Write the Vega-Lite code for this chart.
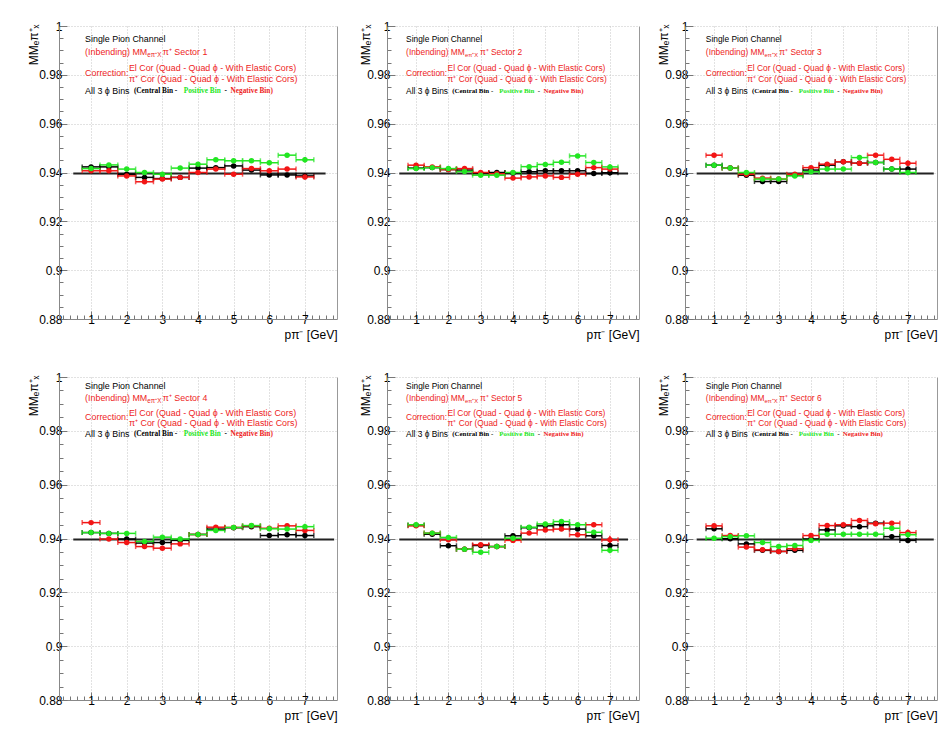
{
"$schema":"https://vega.github.io/schema/vega-lite/v6.json",
"background":"white",
"padding":{"left":27,"top":20,"right":2,"bottom":2},
"datasets":{"d":[
{"p":1,"s":"C","x":1,"y":0.9423,"e":0.0003,"w":0.25},{"p":1,"s":"C","x":1.5,"y":0.9423,"e":0.0003,"w":0.25},{"p":1,"s":"C","x":2,"y":0.9393,"e":0.0003,"w":0.25},{"p":1,"s":"C","x":2.5,"y":0.938,"e":0.0003,"w":0.25},{"p":1,"s":"C","x":3,"y":0.9375,"e":0.0003,"w":0.25},{"p":1,"s":"C","x":3.5,"y":0.938,"e":0.0004,"w":0.25},{"p":1,"s":"C","x":4,"y":0.9418,"e":0.0004,"w":0.25},{"p":1,"s":"C","x":4.5,"y":0.942,"e":0.0004,"w":0.25},{"p":1,"s":"C","x":5,"y":0.9427,"e":0.0004,"w":0.25},{"p":1,"s":"C","x":5.5,"y":0.941,"e":0.0006,"w":0.25},{"p":1,"s":"C","x":6,"y":0.939,"e":0.0006,"w":0.25},{"p":1,"s":"C","x":6.5,"y":0.939,"e":0.0008,"w":0.25},{"p":1,"s":"C","x":7,"y":0.9386,"e":0.0011,"w":0.25},
{"p":1,"s":"N","x":1,"y":0.9407,"e":0.0003,"w":0.25},{"p":1,"s":"N","x":1.5,"y":0.9407,"e":0.0003,"w":0.25},{"p":1,"s":"N","x":2,"y":0.9386,"e":0.0003,"w":0.25},{"p":1,"s":"N","x":2.5,"y":0.9362,"e":0.0003,"w":0.25},{"p":1,"s":"N","x":3,"y":0.9373,"e":0.0003,"w":0.25},{"p":1,"s":"N","x":3.5,"y":0.938,"e":0.0004,"w":0.25},{"p":1,"s":"N","x":4,"y":0.94,"e":0.0004,"w":0.25},{"p":1,"s":"N","x":4.5,"y":0.9414,"e":0.0004,"w":0.25},{"p":1,"s":"N","x":5,"y":0.9393,"e":0.0004,"w":0.25},{"p":1,"s":"N","x":5.5,"y":0.9416,"e":0.0006,"w":0.25},{"p":1,"s":"N","x":6,"y":0.9407,"e":0.0006,"w":0.25},{"p":1,"s":"N","x":6.5,"y":0.9414,"e":0.0008,"w":0.25},{"p":1,"s":"N","x":7,"y":0.9382,"e":0.0011,"w":0.25},
{"p":1,"s":"P","x":1,"y":0.9416,"e":0.0003,"w":0.25},{"p":1,"s":"P","x":1.5,"y":0.9431,"e":0.0003,"w":0.25},{"p":1,"s":"P","x":2,"y":0.9414,"e":0.0003,"w":0.25},{"p":1,"s":"P","x":2.5,"y":0.94,"e":0.0003,"w":0.25},{"p":1,"s":"P","x":3,"y":0.9393,"e":0.0003,"w":0.25},{"p":1,"s":"P","x":3.5,"y":0.9418,"e":0.0004,"w":0.25},{"p":1,"s":"P","x":4,"y":0.9434,"e":0.0004,"w":0.25},{"p":1,"s":"P","x":4.5,"y":0.9452,"e":0.0004,"w":0.25},{"p":1,"s":"P","x":5,"y":0.9448,"e":0.0004,"w":0.25},{"p":1,"s":"P","x":5.5,"y":0.9448,"e":0.0006,"w":0.25},{"p":1,"s":"P","x":6,"y":0.944,"e":0.0006,"w":0.25},{"p":1,"s":"P","x":6.5,"y":0.9471,"e":0.0008,"w":0.25},{"p":1,"s":"P","x":7,"y":0.9452,"e":0.0011,"w":0.25},
{"p":2,"s":"C","x":1,"y":0.9418,"e":0.0003,"w":0.25},{"p":2,"s":"C","x":1.5,"y":0.942,"e":0.0003,"w":0.25},{"p":2,"s":"C","x":2,"y":0.9412,"e":0.0003,"w":0.25},{"p":2,"s":"C","x":2.5,"y":0.941,"e":0.0003,"w":0.25},{"p":2,"s":"C","x":3,"y":0.9396,"e":0.0003,"w":0.25},{"p":2,"s":"C","x":3.5,"y":0.94,"e":0.0004,"w":0.25},{"p":2,"s":"C","x":4,"y":0.9397,"e":0.0004,"w":0.25},{"p":2,"s":"C","x":4.5,"y":0.9403,"e":0.0004,"w":0.25},{"p":2,"s":"C","x":5,"y":0.9407,"e":0.0004,"w":0.25},{"p":2,"s":"C","x":5.5,"y":0.9407,"e":0.0006,"w":0.25},{"p":2,"s":"C","x":6,"y":0.9407,"e":0.0006,"w":0.25},{"p":2,"s":"C","x":6.5,"y":0.9396,"e":0.0008,"w":0.25},{"p":2,"s":"C","x":7,"y":0.9399,"e":0.0011,"w":0.25},
{"p":2,"s":"N","x":1,"y":0.943,"e":0.0003,"w":0.25},{"p":2,"s":"N","x":1.5,"y":0.9423,"e":0.0003,"w":0.25},{"p":2,"s":"N","x":2,"y":0.9412,"e":0.0003,"w":0.25},{"p":2,"s":"N","x":2.5,"y":0.9416,"e":0.0003,"w":0.25},{"p":2,"s":"N","x":3,"y":0.94,"e":0.0003,"w":0.25},{"p":2,"s":"N","x":3.5,"y":0.9395,"e":0.0004,"w":0.25},{"p":2,"s":"N","x":4,"y":0.9377,"e":0.0004,"w":0.25},{"p":2,"s":"N","x":4.5,"y":0.9382,"e":0.0004,"w":0.25},{"p":2,"s":"N","x":5,"y":0.9386,"e":0.0004,"w":0.25},{"p":2,"s":"N","x":5.5,"y":0.938,"e":0.0006,"w":0.25},{"p":2,"s":"N","x":6,"y":0.9393,"e":0.0006,"w":0.25},{"p":2,"s":"N","x":6.5,"y":0.942,"e":0.0008,"w":0.25},{"p":2,"s":"N","x":7,"y":0.9414,"e":0.0011,"w":0.25},
{"p":2,"s":"P","x":1,"y":0.9416,"e":0.0003,"w":0.25},{"p":2,"s":"P","x":1.5,"y":0.942,"e":0.0003,"w":0.25},{"p":2,"s":"P","x":2,"y":0.9416,"e":0.0003,"w":0.25},{"p":2,"s":"P","x":2.5,"y":0.9404,"e":0.0003,"w":0.25},{"p":2,"s":"P","x":3,"y":0.9389,"e":0.0003,"w":0.25},{"p":2,"s":"P","x":3.5,"y":0.9389,"e":0.0004,"w":0.25},{"p":2,"s":"P","x":4,"y":0.94,"e":0.0004,"w":0.25},{"p":2,"s":"P","x":4.5,"y":0.9424,"e":0.0004,"w":0.25},{"p":2,"s":"P","x":5,"y":0.9433,"e":0.0004,"w":0.25},{"p":2,"s":"P","x":5.5,"y":0.9442,"e":0.0006,"w":0.25},{"p":2,"s":"P","x":6,"y":0.9468,"e":0.0006,"w":0.25},{"p":2,"s":"P","x":6.5,"y":0.9441,"e":0.0008,"w":0.25},{"p":2,"s":"P","x":7,"y":0.9423,"e":0.0011,"w":0.25},
{"p":3,"s":"C","x":1,"y":0.943,"e":0.0003,"w":0.25},{"p":3,"s":"C","x":1.5,"y":0.9418,"e":0.0003,"w":0.25},{"p":3,"s":"C","x":2,"y":0.9389,"e":0.0003,"w":0.25},{"p":3,"s":"C","x":2.5,"y":0.9363,"e":0.0003,"w":0.25},{"p":3,"s":"C","x":3,"y":0.9363,"e":0.0003,"w":0.25},{"p":3,"s":"C","x":3.5,"y":0.9389,"e":0.0004,"w":0.25},{"p":3,"s":"C","x":4,"y":0.941,"e":0.0004,"w":0.25},{"p":3,"s":"C","x":4.5,"y":0.943,"e":0.0004,"w":0.25},{"p":3,"s":"C","x":5,"y":0.9444,"e":0.0004,"w":0.25},{"p":3,"s":"C","x":5.5,"y":0.9438,"e":0.0006,"w":0.25},{"p":3,"s":"C","x":6,"y":0.9441,"e":0.0006,"w":0.25},{"p":3,"s":"C","x":6.5,"y":0.9414,"e":0.0008,"w":0.25},{"p":3,"s":"C","x":7,"y":0.9414,"e":0.0011,"w":0.25},
{"p":3,"s":"N","x":1,"y":0.9471,"e":0.0003,"w":0.25},{"p":3,"s":"N","x":1.5,"y":0.9418,"e":0.0003,"w":0.25},{"p":3,"s":"N","x":2,"y":0.9393,"e":0.0003,"w":0.25},{"p":3,"s":"N","x":2.5,"y":0.9377,"e":0.0003,"w":0.25},{"p":3,"s":"N","x":3,"y":0.9373,"e":0.0003,"w":0.25},{"p":3,"s":"N","x":3.5,"y":0.9393,"e":0.0004,"w":0.25},{"p":3,"s":"N","x":4,"y":0.942,"e":0.0004,"w":0.25},{"p":3,"s":"N","x":4.5,"y":0.9434,"e":0.0004,"w":0.25},{"p":3,"s":"N","x":5,"y":0.9444,"e":0.0004,"w":0.25},{"p":3,"s":"N","x":5.5,"y":0.9438,"e":0.0006,"w":0.25},{"p":3,"s":"N","x":6,"y":0.9471,"e":0.0006,"w":0.25},{"p":3,"s":"N","x":6.5,"y":0.9454,"e":0.0008,"w":0.25},{"p":3,"s":"N","x":7,"y":0.9438,"e":0.0011,"w":0.25},
{"p":3,"s":"P","x":1,"y":0.943,"e":0.0003,"w":0.25},{"p":3,"s":"P","x":1.5,"y":0.9418,"e":0.0003,"w":0.25},{"p":3,"s":"P","x":2,"y":0.94,"e":0.0003,"w":0.25},{"p":3,"s":"P","x":2.5,"y":0.9373,"e":0.0003,"w":0.25},{"p":3,"s":"P","x":3,"y":0.9373,"e":0.0003,"w":0.25},{"p":3,"s":"P","x":3.5,"y":0.9386,"e":0.0004,"w":0.25},{"p":3,"s":"P","x":4,"y":0.9403,"e":0.0004,"w":0.25},{"p":3,"s":"P","x":4.5,"y":0.9414,"e":0.0004,"w":0.25},{"p":3,"s":"P","x":5,"y":0.9414,"e":0.0004,"w":0.25},{"p":3,"s":"P","x":5.5,"y":0.9461,"e":0.0006,"w":0.25},{"p":3,"s":"P","x":6,"y":0.9441,"e":0.0006,"w":0.25},{"p":3,"s":"P","x":6.5,"y":0.9414,"e":0.0008,"w":0.25},{"p":3,"s":"P","x":7,"y":0.94,"e":0.0011,"w":0.25},
{"p":4,"s":"C","x":1,"y":0.9422,"e":0.0003,"w":0.25},{"p":4,"s":"C","x":1.5,"y":0.9419,"e":0.0003,"w":0.25},{"p":4,"s":"C","x":2,"y":0.9398,"e":0.0003,"w":0.25},{"p":4,"s":"C","x":2.5,"y":0.9383,"e":0.0003,"w":0.25},{"p":4,"s":"C","x":3,"y":0.9385,"e":0.0003,"w":0.25},{"p":4,"s":"C","x":3.5,"y":0.9393,"e":0.0004,"w":0.25},{"p":4,"s":"C","x":4,"y":0.9415,"e":0.0004,"w":0.25},{"p":4,"s":"C","x":4.5,"y":0.9435,"e":0.0004,"w":0.25},{"p":4,"s":"C","x":5,"y":0.944,"e":0.0004,"w":0.25},{"p":4,"s":"C","x":5.5,"y":0.9444,"e":0.0006,"w":0.25},{"p":4,"s":"C","x":6,"y":0.9411,"e":0.0006,"w":0.25},{"p":4,"s":"C","x":6.5,"y":0.9414,"e":0.0008,"w":0.25},{"p":4,"s":"C","x":7,"y":0.9411,"e":0.0011,"w":0.25},
{"p":4,"s":"N","x":1,"y":0.9459,"e":0.0003,"w":0.25},{"p":4,"s":"N","x":1.5,"y":0.9398,"e":0.0003,"w":0.25},{"p":4,"s":"N","x":2,"y":0.9385,"e":0.0003,"w":0.25},{"p":4,"s":"N","x":2.5,"y":0.937,"e":0.0003,"w":0.25},{"p":4,"s":"N","x":3,"y":0.9364,"e":0.0003,"w":0.25},{"p":4,"s":"N","x":3.5,"y":0.938,"e":0.0004,"w":0.25},{"p":4,"s":"N","x":4,"y":0.9415,"e":0.0004,"w":0.25},{"p":4,"s":"N","x":4.5,"y":0.9442,"e":0.0004,"w":0.25},{"p":4,"s":"N","x":5,"y":0.9441,"e":0.0004,"w":0.25},{"p":4,"s":"N","x":5.5,"y":0.9447,"e":0.0006,"w":0.25},{"p":4,"s":"N","x":6,"y":0.9438,"e":0.0006,"w":0.25},{"p":4,"s":"N","x":6.5,"y":0.9447,"e":0.0008,"w":0.25},{"p":4,"s":"N","x":7,"y":0.943,"e":0.0011,"w":0.25},
{"p":4,"s":"P","x":1,"y":0.9422,"e":0.0003,"w":0.25},{"p":4,"s":"P","x":1.5,"y":0.9419,"e":0.0003,"w":0.25},{"p":4,"s":"P","x":2,"y":0.9419,"e":0.0003,"w":0.25},{"p":4,"s":"P","x":2.5,"y":0.9389,"e":0.0003,"w":0.25},{"p":4,"s":"P","x":3,"y":0.9405,"e":0.0003,"w":0.25},{"p":4,"s":"P","x":3.5,"y":0.9398,"e":0.0004,"w":0.25},{"p":4,"s":"P","x":4,"y":0.9415,"e":0.0004,"w":0.25},{"p":4,"s":"P","x":4.5,"y":0.943,"e":0.0004,"w":0.25},{"p":4,"s":"P","x":5,"y":0.9441,"e":0.0004,"w":0.25},{"p":4,"s":"P","x":5.5,"y":0.9448,"e":0.0006,"w":0.25},{"p":4,"s":"P","x":6,"y":0.9436,"e":0.0006,"w":0.25},{"p":4,"s":"P","x":6.5,"y":0.9435,"e":0.0008,"w":0.25},{"p":4,"s":"P","x":7,"y":0.9444,"e":0.0011,"w":0.25},
{"p":5,"s":"C","x":1,"y":0.9449,"e":0.0003,"w":0.25},{"p":5,"s":"C","x":1.5,"y":0.9416,"e":0.0003,"w":0.25},{"p":5,"s":"C","x":2,"y":0.9373,"e":0.0003,"w":0.25},{"p":5,"s":"C","x":2.5,"y":0.936,"e":0.0003,"w":0.25},{"p":5,"s":"C","x":3,"y":0.9374,"e":0.0003,"w":0.25},{"p":5,"s":"C","x":3.5,"y":0.937,"e":0.0004,"w":0.25},{"p":5,"s":"C","x":4,"y":0.941,"e":0.0004,"w":0.25},{"p":5,"s":"C","x":4.5,"y":0.944,"e":0.0004,"w":0.25},{"p":5,"s":"C","x":5,"y":0.9447,"e":0.0004,"w":0.25},{"p":5,"s":"C","x":5.5,"y":0.9451,"e":0.0006,"w":0.25},{"p":5,"s":"C","x":6,"y":0.9435,"e":0.0006,"w":0.25},{"p":5,"s":"C","x":6.5,"y":0.941,"e":0.0008,"w":0.25},{"p":5,"s":"C","x":7,"y":0.9374,"e":0.0011,"w":0.25},
{"p":5,"s":"N","x":1,"y":0.9447,"e":0.0003,"w":0.25},{"p":5,"s":"N","x":1.5,"y":0.942,"e":0.0003,"w":0.25},{"p":5,"s":"N","x":2,"y":0.9395,"e":0.0003,"w":0.25},{"p":5,"s":"N","x":2.5,"y":0.936,"e":0.0003,"w":0.25},{"p":5,"s":"N","x":3,"y":0.9377,"e":0.0003,"w":0.25},{"p":5,"s":"N","x":3.5,"y":0.937,"e":0.0004,"w":0.25},{"p":5,"s":"N","x":4,"y":0.9393,"e":0.0004,"w":0.25},{"p":5,"s":"N","x":4.5,"y":0.942,"e":0.0004,"w":0.25},{"p":5,"s":"N","x":5,"y":0.9432,"e":0.0004,"w":0.25},{"p":5,"s":"N","x":5.5,"y":0.9435,"e":0.0006,"w":0.25},{"p":5,"s":"N","x":6,"y":0.9414,"e":0.0006,"w":0.25},{"p":5,"s":"N","x":6.5,"y":0.9451,"e":0.0008,"w":0.25},{"p":5,"s":"N","x":7,"y":0.9395,"e":0.0015,"w":0.25},
{"p":5,"s":"P","x":1,"y":0.9451,"e":0.0003,"w":0.25},{"p":5,"s":"P","x":1.5,"y":0.942,"e":0.0003,"w":0.25},{"p":5,"s":"P","x":2,"y":0.9404,"e":0.0003,"w":0.25},{"p":5,"s":"P","x":2.5,"y":0.936,"e":0.0003,"w":0.25},{"p":5,"s":"P","x":3,"y":0.9349,"e":0.0003,"w":0.25},{"p":5,"s":"P","x":3.5,"y":0.937,"e":0.0004,"w":0.25},{"p":5,"s":"P","x":4,"y":0.9401,"e":0.0004,"w":0.25},{"p":5,"s":"P","x":4.5,"y":0.9442,"e":0.0004,"w":0.25},{"p":5,"s":"P","x":5,"y":0.9454,"e":0.0004,"w":0.25},{"p":5,"s":"P","x":5.5,"y":0.9463,"e":0.0006,"w":0.25},{"p":5,"s":"P","x":6,"y":0.9451,"e":0.0006,"w":0.25},{"p":5,"s":"P","x":6.5,"y":0.9423,"e":0.0008,"w":0.25},{"p":5,"s":"P","x":7,"y":0.9356,"e":0.0011,"w":0.25},
{"p":6,"s":"C","x":1,"y":0.9436,"e":0.0003,"w":0.25},{"p":6,"s":"C","x":1.5,"y":0.9399,"e":0.0003,"w":0.25},{"p":6,"s":"C","x":2,"y":0.938,"e":0.0003,"w":0.25},{"p":6,"s":"C","x":2.5,"y":0.9356,"e":0.0003,"w":0.25},{"p":6,"s":"C","x":3,"y":0.9352,"e":0.0003,"w":0.25},{"p":6,"s":"C","x":3.5,"y":0.9356,"e":0.0004,"w":0.25},{"p":6,"s":"C","x":4,"y":0.9398,"e":0.0004,"w":0.25},{"p":6,"s":"C","x":4.5,"y":0.9432,"e":0.0004,"w":0.25},{"p":6,"s":"C","x":5,"y":0.9447,"e":0.0004,"w":0.25},{"p":6,"s":"C","x":5.5,"y":0.9444,"e":0.0006,"w":0.25},{"p":6,"s":"C","x":6,"y":0.9457,"e":0.0006,"w":0.25},{"p":6,"s":"C","x":6.5,"y":0.9407,"e":0.0008,"w":0.25},{"p":6,"s":"C","x":7,"y":0.9393,"e":0.0011,"w":0.25},
{"p":6,"s":"N","x":1,"y":0.9447,"e":0.0003,"w":0.25},{"p":6,"s":"N","x":1.5,"y":0.9411,"e":0.0003,"w":0.25},{"p":6,"s":"N","x":2,"y":0.9368,"e":0.0003,"w":0.25},{"p":6,"s":"N","x":2.5,"y":0.9358,"e":0.0003,"w":0.25},{"p":6,"s":"N","x":3,"y":0.9352,"e":0.0003,"w":0.25},{"p":6,"s":"N","x":3.5,"y":0.9362,"e":0.0004,"w":0.25},{"p":6,"s":"N","x":4,"y":0.9411,"e":0.0004,"w":0.25},{"p":6,"s":"N","x":4.5,"y":0.9448,"e":0.0004,"w":0.25},{"p":6,"s":"N","x":5,"y":0.9451,"e":0.0004,"w":0.25},{"p":6,"s":"N","x":5.5,"y":0.9467,"e":0.0006,"w":0.25},{"p":6,"s":"N","x":6,"y":0.9455,"e":0.0006,"w":0.25},{"p":6,"s":"N","x":6.5,"y":0.9457,"e":0.0008,"w":0.25},{"p":6,"s":"N","x":7,"y":0.9422,"e":0.0011,"w":0.25},
{"p":6,"s":"P","x":1,"y":0.9401,"e":0.0003,"w":0.25},{"p":6,"s":"P","x":1.5,"y":0.9407,"e":0.0003,"w":0.25},{"p":6,"s":"P","x":2,"y":0.941,"e":0.0003,"w":0.25},{"p":6,"s":"P","x":2.5,"y":0.9385,"e":0.0003,"w":0.25},{"p":6,"s":"P","x":3,"y":0.937,"e":0.0003,"w":0.25},{"p":6,"s":"P","x":3.5,"y":0.9374,"e":0.0004,"w":0.25},{"p":6,"s":"P","x":4,"y":0.9393,"e":0.0004,"w":0.25},{"p":6,"s":"P","x":4.5,"y":0.9416,"e":0.0004,"w":0.25},{"p":6,"s":"P","x":5,"y":0.9416,"e":0.0004,"w":0.25},{"p":6,"s":"P","x":5.5,"y":0.9416,"e":0.0006,"w":0.25},{"p":6,"s":"P","x":6,"y":0.9416,"e":0.0006,"w":0.25},{"p":6,"s":"P","x":6.5,"y":0.9438,"e":0.0008,"w":0.25},{"p":6,"s":"P","x":7,"y":0.9414,"e":0.0011,"w":0.25}
]},
"config":{
"view":{"stroke":null},
"font":"Liberation Sans",
"axis":{"labelFont":"Liberation Sans","titleFont":"Liberation Sans","labelColor":"#000","titleColor":"#000","titleFontWeight":"normal","labelFontSize":12,"titleFontSize":12,"domainColor":"#888","tickColor":"#777","gridColor":"#c4c4c4","gridDash":[1,2],"labelFlush":false,"labelOverlap":false},
"text":{"font":"Liberation Sans","align":"left","baseline":"middle"}
},
"spacing":31,
"vconcat":[
{"spacing":21,"hconcat":[
{"width":278,"height":293,"data":{"values":[{}]},"resolve":{"axis":{"x":"independent","y":"independent"}},"layer":[
{"mark":{"type":"rule","color":"#222","strokeWidth":2},"encoding":{"x":{"datum":0.5,"type":"quantitative","scale":{"domain":[0.1,7.9],"nice":false,"zero":false},"axis":{"orient":"bottom","values":[0.2,0.4,0.6,0.8,1.2,1.4,1.6,1.8,2.2,2.4,2.6,2.8,3.2,3.4,3.6,3.8,4.2,4.4,4.6,4.8,5.2,5.4,5.6,5.8,6.2,6.4,6.6,6.8,7.2,7.4,7.6,7.8],"labels":false,"domain":false,"grid":false,"tickSize":-4,"title":null}},"x2":{"datum":7.58},"y":{"datum":0.9396,"type":"quantitative","scale":{"domain":[0.88,1],"nice":false,"zero":false},"axis":{"orient":"left","values":[0.885,0.89,0.895,0.905,0.91,0.915,0.925,0.93,0.935,0.945,0.95,0.955,0.965,0.97,0.975,0.985,0.99,0.995],"labels":false,"domain":false,"grid":false,"tickSize":-4,"title":null}}}},
{"data":{"name":"d"},"transform":[{"filter":"datum.p==1"}],"mark":{"type":"errorbar","ticks":{"size":5},"thickness":1.5},"encoding":{"x":{"field":"x","type":"quantitative","axis":{"orient":"bottom","values":[1,2,3,4,5,6,7],"grid":true,"tickSize":-8,"labelPadding":3,"title":"pπ⁻ [GeV]","titleX":278,"titleY":15,"titleAlign":"right","titleBaseline":"middle"}},"xError":{"field":"w"},"y":{"field":"y","type":"quantitative","axis":{"orient":"left","values":[0.88,0.9,0.92,0.94,0.96,0.98,1],"format":"~g","grid":true,"tickSize":-8,"labelPadding":5,"title":"MMₑπ⁺ₓ","titleAngle":-90,"titleX":-26,"titleY":-2,"titleAlign":"right","titleBaseline":"middle"}},"color":{"field":"s","type":"nominal","scale":{"domain":["C","N","P"],"range":["#000000","#f21515","#22e622"]},"legend":null}}},
{"data":{"name":"d"},"transform":[{"filter":"datum.p==1"}],"mark":{"type":"errorbar","thickness":1.5},"encoding":{"x":{"field":"x","type":"quantitative","axis":null},"y":{"field":"y","type":"quantitative","axis":{"orient":"right","labels":false,"ticks":false,"grid":false,"domain":true,"title":null,"domainColor":"#999"}},"yError":{"field":"e"},"color":{"field":"s","type":"nominal","legend":null}}},
{"data":{"name":"d"},"transform":[{"filter":"datum.p==1"}],"mark":{"type":"circle","size":30,"opacity":1},"encoding":{"x":{"field":"x","type":"quantitative","axis":null},"y":{"field":"y","type":"quantitative","axis":null},"color":{"field":"s","type":"nominal","legend":null}}},
{"mark":{"type":"text","fontSize":8.9,"color":"#000"},"encoding":{"x":{"datum":0.832,"axis":null},"y":{"datum":0.99469,"axis":null},"text":{"value":"Single Pion Channel"}}},
{"mark":{"type":"text","fontSize":8.9,"color":"#ee1c1c"},"encoding":{"x":{"datum":0.832,"axis":null},"y":{"datum":0.98939,"axis":null},"text":{"value":"(Inbending) MM"}}},
{"mark":{"type":"text","fontSize":6.3,"color":"#ee1c1c"},"encoding":{"x":{"datum":2.578,"axis":null},"y":{"datum":0.98804,"axis":null},"text":{"value":"eπ⁺X"}}},
{"mark":{"type":"text","fontSize":8.9,"color":"#ee1c1c"},"encoding":{"x":{"datum":3.011,"axis":null},"y":{"datum":0.98939,"axis":null},"text":{"value":"π⁺ Sector 1"}}},
{"mark":{"type":"text","fontSize":8.9,"color":"#ee1c1c"},"encoding":{"x":{"datum":0.832,"axis":null},"y":{"datum":0.98082,"axis":null},"text":{"value":"Correction:"}}},
{"mark":{"type":"text","fontSize":8.9,"color":"#ee1c1c"},"encoding":{"x":{"datum":2.061,"axis":null},"y":{"datum":0.98286,"axis":null},"text":{"value":"El Cor (Quad - Quad ϕ - With Elastic Cors)"}}},
{"mark":{"type":"text","fontSize":8.9,"color":"#ee1c1c"},"encoding":{"x":{"datum":2.061,"axis":null},"y":{"datum":0.97812,"axis":null},"text":{"value":"π⁺ Cor (Quad - Quad ϕ - With Elastic Cors)"}}},
{"mark":{"type":"text","fontSize":8.9,"color":"#000"},"encoding":{"x":{"datum":0.832,"axis":null},"y":{"datum":0.97335,"axis":null},"text":{"value":"All 3 ϕ Bins"}}},
{"mark":{"type":"text","fontSize":7.3,"font":"Liberation Serif","fontWeight":"bold","color":"#000"},"encoding":{"x":{"datum":2.201,"axis":null},"y":{"datum":0.97335,"axis":null},"text":{"value":"(Central Bin -"}}},
{"mark":{"type":"text","fontSize":7.3,"font":"Liberation Serif","fontWeight":"bold","color":"#22e622"},"encoding":{"x":{"datum":3.598,"axis":null},"y":{"datum":0.97335,"axis":null},"text":{"value":"Positive Bin"}}},
{"mark":{"type":"text","fontSize":7.3,"font":"Liberation Serif","fontWeight":"bold","color":"#000"},"encoding":{"x":{"datum":4.743,"axis":null},"y":{"datum":0.97335,"axis":null},"text":{"value":"-"}}},
{"mark":{"type":"text","fontSize":7.3,"font":"Liberation Serif","fontWeight":"bold","color":"#ee1c1c"},"encoding":{"x":{"datum":4.911,"axis":null},"y":{"datum":0.97335,"axis":null},"text":{"value":"Negative Bin)"}}}
]},
{"spacing":17,"hconcat":[
{"width":252,"height":293,"data":{"values":[{}]},"resolve":{"axis":{"x":"independent","y":"independent"}},"layer":[
{"mark":{"type":"rule","color":"#222","strokeWidth":2},"encoding":{"x":{"datum":0.48,"type":"quantitative","scale":{"domain":[0.1,7.9],"nice":false,"zero":false},"axis":{"orient":"bottom","values":[0.2,0.4,0.6,0.8,1.2,1.4,1.6,1.8,2.2,2.4,2.6,2.8,3.2,3.4,3.6,3.8,4.2,4.4,4.6,4.8,5.2,5.4,5.6,5.8,6.2,6.4,6.6,6.8,7.2,7.4,7.6,7.8],"labels":false,"domain":false,"grid":false,"tickSize":-4,"title":null}},"x2":{"datum":7.56},"y":{"datum":0.9396,"type":"quantitative","scale":{"domain":[0.88,1],"nice":false,"zero":false},"axis":{"orient":"left","values":[0.885,0.89,0.895,0.905,0.91,0.915,0.925,0.93,0.935,0.945,0.95,0.955,0.965,0.97,0.975,0.985,0.99,0.995],"labels":false,"domain":false,"grid":false,"tickSize":-4,"title":null}}}},
{"data":{"name":"d"},"transform":[{"filter":"datum.p==2"}],"mark":{"type":"errorbar","ticks":{"size":5},"thickness":1.5},"encoding":{"x":{"field":"x","type":"quantitative","axis":{"orient":"bottom","values":[1,2,3,4,5,6,7],"grid":true,"tickSize":-8,"labelPadding":3,"title":"pπ⁻ [GeV]","titleX":252,"titleY":15,"titleAlign":"right","titleBaseline":"middle"}},"xError":{"field":"w"},"y":{"field":"y","type":"quantitative","axis":{"orient":"left","values":[0.88,0.9,0.92,0.94,0.96,0.98,1],"format":"~g","grid":true,"tickSize":-8,"labelPadding":5,"title":"MMₑπ⁺ₓ","titleAngle":-90,"titleX":-22,"titleY":-2,"titleAlign":"right","titleBaseline":"middle"}},"color":{"field":"s","type":"nominal","scale":{"domain":["C","N","P"],"range":["#000000","#f21515","#22e622"]},"legend":null}}},
{"data":{"name":"d"},"transform":[{"filter":"datum.p==2"}],"mark":{"type":"errorbar","thickness":1.5},"encoding":{"x":{"field":"x","type":"quantitative","axis":null},"y":{"field":"y","type":"quantitative","axis":{"orient":"right","labels":false,"ticks":false,"grid":false,"domain":true,"title":null,"domainColor":"#999"}},"yError":{"field":"e"},"color":{"field":"s","type":"nominal","legend":null}}},
{"data":{"name":"d"},"transform":[{"filter":"datum.p==2"}],"mark":{"type":"circle","size":30,"opacity":1},"encoding":{"x":{"field":"x","type":"quantitative","axis":null},"y":{"field":"y","type":"quantitative","axis":null},"color":{"field":"s","type":"nominal","legend":null}}},
{"mark":{"type":"text","fontSize":8.4,"color":"#000"},"encoding":{"x":{"datum":0.691,"axis":null},"y":{"datum":0.99469,"axis":null},"text":{"value":"Single Pion Channel"}}},
{"mark":{"type":"text","fontSize":8.4,"color":"#ee1c1c"},"encoding":{"x":{"datum":0.691,"axis":null},"y":{"datum":0.98939,"axis":null},"text":{"value":"(Inbending) MM"}}},
{"mark":{"type":"text","fontSize":5.9,"color":"#ee1c1c"},"encoding":{"x":{"datum":2.512,"axis":null},"y":{"datum":0.98804,"axis":null},"text":{"value":"eπ⁺X"}}},
{"mark":{"type":"text","fontSize":8.4,"color":"#ee1c1c"},"encoding":{"x":{"datum":2.975,"axis":null},"y":{"datum":0.98939,"axis":null},"text":{"value":"π⁺ Sector 2"}}},
{"mark":{"type":"text","fontSize":8.4,"color":"#ee1c1c"},"encoding":{"x":{"datum":0.691,"axis":null},"y":{"datum":0.98082,"axis":null},"text":{"value":"Correction:"}}},
{"mark":{"type":"text","fontSize":8.4,"color":"#ee1c1c"},"encoding":{"x":{"datum":1.975,"axis":null},"y":{"datum":0.98286,"axis":null},"text":{"value":"El Cor (Quad - Quad ϕ - With Elastic Cors)"}}},
{"mark":{"type":"text","fontSize":8.4,"color":"#ee1c1c"},"encoding":{"x":{"datum":1.975,"axis":null},"y":{"datum":0.97812,"axis":null},"text":{"value":"π⁺ Cor (Quad - Quad ϕ - With Elastic Cors)"}}},
{"mark":{"type":"text","fontSize":8.4,"color":"#000"},"encoding":{"x":{"datum":0.691,"axis":null},"y":{"datum":0.97335,"axis":null},"text":{"value":"All 3 ϕ Bins"}}},
{"mark":{"type":"text","fontSize":6.9,"font":"Liberation Serif","fontWeight":"bold","color":"#000"},"encoding":{"x":{"datum":2.12,"axis":null},"y":{"datum":0.97335,"axis":null},"text":{"value":"(Central Bin -"}}},
{"mark":{"type":"text","fontSize":6.9,"font":"Liberation Serif","fontWeight":"bold","color":"#22e622"},"encoding":{"x":{"datum":3.577,"axis":null},"y":{"datum":0.97335,"axis":null},"text":{"value":"Positive Bin"}}},
{"mark":{"type":"text","fontSize":6.9,"font":"Liberation Serif","fontWeight":"bold","color":"#000"},"encoding":{"x":{"datum":4.765,"axis":null},"y":{"datum":0.97335,"axis":null},"text":{"value":"-"}}},
{"mark":{"type":"text","fontSize":6.9,"font":"Liberation Serif","fontWeight":"bold","color":"#ee1c1c"},"encoding":{"x":{"datum":4.944,"axis":null},"y":{"datum":0.97335,"axis":null},"text":{"value":"Negative Bin)"}}}
]},
{"width":252,"height":293,"data":{"values":[{}]},"resolve":{"axis":{"x":"independent","y":"independent"}},"layer":[
{"mark":{"type":"rule","color":"#222","strokeWidth":2},"encoding":{"x":{"datum":0.46,"type":"quantitative","scale":{"domain":[0.1,7.9],"nice":false,"zero":false},"axis":{"orient":"bottom","values":[0.2,0.4,0.6,0.8,1.2,1.4,1.6,1.8,2.2,2.4,2.6,2.8,3.2,3.4,3.6,3.8,4.2,4.4,4.6,4.8,5.2,5.4,5.6,5.8,6.2,6.4,6.6,6.8,7.2,7.4,7.6,7.8],"labels":false,"domain":false,"grid":false,"tickSize":-4,"title":null}},"x2":{"datum":7.8},"y":{"datum":0.9396,"type":"quantitative","scale":{"domain":[0.88,1],"nice":false,"zero":false},"axis":{"orient":"left","values":[0.885,0.89,0.895,0.905,0.91,0.915,0.925,0.93,0.935,0.945,0.95,0.955,0.965,0.97,0.975,0.985,0.99,0.995],"labels":false,"domain":false,"grid":false,"tickSize":-4,"title":null}}}},
{"data":{"name":"d"},"transform":[{"filter":"datum.p==3"}],"mark":{"type":"errorbar","ticks":{"size":5},"thickness":1.5},"encoding":{"x":{"field":"x","type":"quantitative","axis":{"orient":"bottom","values":[1,2,3,4,5,6,7],"grid":true,"tickSize":-8,"labelPadding":3,"title":"pπ⁻ [GeV]","titleX":252,"titleY":15,"titleAlign":"right","titleBaseline":"middle"}},"xError":{"field":"w"},"y":{"field":"y","type":"quantitative","axis":{"orient":"left","values":[0.88,0.9,0.92,0.94,0.96,0.98,1],"format":"~g","grid":true,"tickSize":-8,"labelPadding":5,"title":"MMₑπ⁺ₓ","titleAngle":-90,"titleX":-22,"titleY":-2,"titleAlign":"right","titleBaseline":"middle"}},"color":{"field":"s","type":"nominal","scale":{"domain":["C","N","P"],"range":["#000000","#f21515","#22e622"]},"legend":null}}},
{"data":{"name":"d"},"transform":[{"filter":"datum.p==3"}],"mark":{"type":"errorbar","thickness":1.5},"encoding":{"x":{"field":"x","type":"quantitative","axis":null},"y":{"field":"y","type":"quantitative","axis":{"orient":"right","labels":false,"ticks":false,"grid":false,"domain":true,"title":null,"domainColor":"#999"}},"yError":{"field":"e"},"color":{"field":"s","type":"nominal","legend":null}}},
{"data":{"name":"d"},"transform":[{"filter":"datum.p==3"}],"mark":{"type":"circle","size":30,"opacity":1},"encoding":{"x":{"field":"x","type":"quantitative","axis":null},"y":{"field":"y","type":"quantitative","axis":null},"color":{"field":"s","type":"nominal","legend":null}}},
{"mark":{"type":"text","fontSize":8.4,"color":"#000"},"encoding":{"x":{"datum":0.745,"axis":null},"y":{"datum":0.99469,"axis":null},"text":{"value":"Single Pion Channel"}}},
{"mark":{"type":"text","fontSize":8.4,"color":"#ee1c1c"},"encoding":{"x":{"datum":0.745,"axis":null},"y":{"datum":0.98939,"axis":null},"text":{"value":"(Inbending) MM"}}},
{"mark":{"type":"text","fontSize":5.9,"color":"#ee1c1c"},"encoding":{"x":{"datum":2.56,"axis":null},"y":{"datum":0.98804,"axis":null},"text":{"value":"eπ⁺X"}}},
{"mark":{"type":"text","fontSize":8.4,"color":"#ee1c1c"},"encoding":{"x":{"datum":3.02,"axis":null},"y":{"datum":0.98939,"axis":null},"text":{"value":"π⁺ Sector 3"}}},
{"mark":{"type":"text","fontSize":8.4,"color":"#ee1c1c"},"encoding":{"x":{"datum":0.745,"axis":null},"y":{"datum":0.98082,"axis":null},"text":{"value":"Correction:"}}},
{"mark":{"type":"text","fontSize":8.4,"color":"#ee1c1c"},"encoding":{"x":{"datum":2.025,"axis":null},"y":{"datum":0.98286,"axis":null},"text":{"value":"El Cor (Quad - Quad ϕ - With Elastic Cors)"}}},
{"mark":{"type":"text","fontSize":8.4,"color":"#ee1c1c"},"encoding":{"x":{"datum":2.025,"axis":null},"y":{"datum":0.97812,"axis":null},"text":{"value":"π⁺ Cor (Quad - Quad ϕ - With Elastic Cors)"}}},
{"mark":{"type":"text","fontSize":8.4,"color":"#000"},"encoding":{"x":{"datum":0.745,"axis":null},"y":{"datum":0.97335,"axis":null},"text":{"value":"All 3 ϕ Bins"}}},
{"mark":{"type":"text","fontSize":6.9,"font":"Liberation Serif","fontWeight":"bold","color":"#000"},"encoding":{"x":{"datum":2.17,"axis":null},"y":{"datum":0.97335,"axis":null},"text":{"value":"(Central Bin -"}}},
{"mark":{"type":"text","fontSize":6.9,"font":"Liberation Serif","fontWeight":"bold","color":"#22e622"},"encoding":{"x":{"datum":3.62,"axis":null},"y":{"datum":0.97335,"axis":null},"text":{"value":"Positive Bin"}}},
{"mark":{"type":"text","fontSize":6.9,"font":"Liberation Serif","fontWeight":"bold","color":"#000"},"encoding":{"x":{"datum":4.81,"axis":null},"y":{"datum":0.97335,"axis":null},"text":{"value":"-"}}},
{"mark":{"type":"text","fontSize":6.9,"font":"Liberation Serif","fontWeight":"bold","color":"#ee1c1c"},"encoding":{"x":{"datum":4.985,"axis":null},"y":{"datum":0.97335,"axis":null},"text":{"value":"Negative Bin)"}}}
]}
]}
]},
{"spacing":21,"hconcat":[
{"width":278,"height":323,"data":{"values":[{}]},"resolve":{"axis":{"x":"independent","y":"independent"}},"layer":[
{"mark":{"type":"rule","color":"#222","strokeWidth":2},"encoding":{"x":{"datum":0.5,"type":"quantitative","scale":{"domain":[0.1,7.9],"nice":false,"zero":false},"axis":{"orient":"bottom","values":[0.2,0.4,0.6,0.8,1.2,1.4,1.6,1.8,2.2,2.4,2.6,2.8,3.2,3.4,3.6,3.8,4.2,4.4,4.6,4.8,5.2,5.4,5.6,5.8,6.2,6.4,6.6,6.8,7.2,7.4,7.6,7.8],"labels":false,"domain":false,"grid":false,"tickSize":-4,"title":null}},"x2":{"datum":7.82},"y":{"datum":0.9396,"type":"quantitative","scale":{"domain":[0.88,1],"nice":false,"zero":false},"axis":{"orient":"left","values":[0.885,0.89,0.895,0.905,0.91,0.915,0.925,0.93,0.935,0.945,0.95,0.955,0.965,0.97,0.975,0.985,0.99,0.995],"labels":false,"domain":false,"grid":false,"tickSize":-4,"title":null}}}},
{"data":{"name":"d"},"transform":[{"filter":"datum.p==4"}],"mark":{"type":"errorbar","ticks":{"size":5},"thickness":1.5},"encoding":{"x":{"field":"x","type":"quantitative","axis":{"orient":"bottom","values":[1,2,3,4,5,6,7],"grid":true,"tickSize":-8,"labelPadding":3,"title":"pπ⁻ [GeV]","titleX":278,"titleY":15,"titleAlign":"right","titleBaseline":"middle"}},"xError":{"field":"w"},"y":{"field":"y","type":"quantitative","axis":{"orient":"left","values":[0.88,0.9,0.92,0.94,0.96,0.98,1],"format":"~g","grid":true,"tickSize":-8,"labelPadding":5,"title":"MMₑπ⁺ₓ","titleAngle":-90,"titleX":-26,"titleY":-2,"titleAlign":"right","titleBaseline":"middle"}},"color":{"field":"s","type":"nominal","scale":{"domain":["C","N","P"],"range":["#000000","#f21515","#22e622"]},"legend":null}}},
{"data":{"name":"d"},"transform":[{"filter":"datum.p==4"}],"mark":{"type":"errorbar","thickness":1.5},"encoding":{"x":{"field":"x","type":"quantitative","axis":null},"y":{"field":"y","type":"quantitative","axis":{"orient":"right","labels":false,"ticks":false,"grid":false,"domain":true,"title":null,"domainColor":"#999"}},"yError":{"field":"e"},"color":{"field":"s","type":"nominal","legend":null}}},
{"data":{"name":"d"},"transform":[{"filter":"datum.p==4"}],"mark":{"type":"circle","size":30,"opacity":1},"encoding":{"x":{"field":"x","type":"quantitative","axis":null},"y":{"field":"y","type":"quantitative","axis":null},"color":{"field":"s","type":"nominal","legend":null}}},
{"mark":{"type":"text","fontSize":8.9,"color":"#000"},"encoding":{"x":{"datum":0.832,"axis":null},"y":{"datum":0.99667,"axis":null},"text":{"value":"Single Pion Channel"}}},
{"mark":{"type":"text","fontSize":8.9,"color":"#ee1c1c"},"encoding":{"x":{"datum":0.832,"axis":null},"y":{"datum":0.99222,"axis":null},"text":{"value":"(Inbending) MM"}}},
{"mark":{"type":"text","fontSize":6.3,"color":"#ee1c1c"},"encoding":{"x":{"datum":2.578,"axis":null},"y":{"datum":0.99111,"axis":null},"text":{"value":"eπ⁺X"}}},
{"mark":{"type":"text","fontSize":8.9,"color":"#ee1c1c"},"encoding":{"x":{"datum":3.011,"axis":null},"y":{"datum":0.99222,"axis":null},"text":{"value":"π⁺ Sector 4"}}},
{"mark":{"type":"text","fontSize":8.9,"color":"#ee1c1c"},"encoding":{"x":{"datum":0.832,"axis":null},"y":{"datum":0.98507,"axis":null},"text":{"value":"Correction:"}}},
{"mark":{"type":"text","fontSize":8.9,"color":"#ee1c1c"},"encoding":{"x":{"datum":2.061,"axis":null},"y":{"datum":0.98678,"axis":null},"text":{"value":"El Cor (Quad - Quad ϕ - With Elastic Cors)"}}},
{"mark":{"type":"text","fontSize":8.9,"color":"#ee1c1c"},"encoding":{"x":{"datum":2.061,"axis":null},"y":{"datum":0.98281,"axis":null},"text":{"value":"π⁺ Cor (Quad - Quad ϕ - With Elastic Cors)"}}},
{"mark":{"type":"text","fontSize":8.9,"color":"#000"},"encoding":{"x":{"datum":0.832,"axis":null},"y":{"datum":0.97885,"axis":null},"text":{"value":"All 3 ϕ Bins"}}},
{"mark":{"type":"text","fontSize":7.3,"font":"Liberation Serif","fontWeight":"bold","color":"#000"},"encoding":{"x":{"datum":2.201,"axis":null},"y":{"datum":0.97885,"axis":null},"text":{"value":"(Central Bin -"}}},
{"mark":{"type":"text","fontSize":7.3,"font":"Liberation Serif","fontWeight":"bold","color":"#22e622"},"encoding":{"x":{"datum":3.598,"axis":null},"y":{"datum":0.97885,"axis":null},"text":{"value":"Positive Bin"}}},
{"mark":{"type":"text","fontSize":7.3,"font":"Liberation Serif","fontWeight":"bold","color":"#000"},"encoding":{"x":{"datum":4.743,"axis":null},"y":{"datum":0.97885,"axis":null},"text":{"value":"-"}}},
{"mark":{"type":"text","fontSize":7.3,"font":"Liberation Serif","fontWeight":"bold","color":"#ee1c1c"},"encoding":{"x":{"datum":4.911,"axis":null},"y":{"datum":0.97885,"axis":null},"text":{"value":"Negative Bin)"}}}
]},
{"spacing":17,"hconcat":[
{"width":252,"height":323,"data":{"values":[{}]},"resolve":{"axis":{"x":"independent","y":"independent"}},"layer":[
{"mark":{"type":"rule","color":"#222","strokeWidth":2},"encoding":{"x":{"datum":0.48,"type":"quantitative","scale":{"domain":[0.1,7.9],"nice":false,"zero":false},"axis":{"orient":"bottom","values":[0.2,0.4,0.6,0.8,1.2,1.4,1.6,1.8,2.2,2.4,2.6,2.8,3.2,3.4,3.6,3.8,4.2,4.4,4.6,4.8,5.2,5.4,5.6,5.8,6.2,6.4,6.6,6.8,7.2,7.4,7.6,7.8],"labels":false,"domain":false,"grid":false,"tickSize":-4,"title":null}},"x2":{"datum":7.56},"y":{"datum":0.9396,"type":"quantitative","scale":{"domain":[0.88,1],"nice":false,"zero":false},"axis":{"orient":"left","values":[0.885,0.89,0.895,0.905,0.91,0.915,0.925,0.93,0.935,0.945,0.95,0.955,0.965,0.97,0.975,0.985,0.99,0.995],"labels":false,"domain":false,"grid":false,"tickSize":-4,"title":null}}}},
{"data":{"name":"d"},"transform":[{"filter":"datum.p==5"}],"mark":{"type":"errorbar","ticks":{"size":5},"thickness":1.5},"encoding":{"x":{"field":"x","type":"quantitative","axis":{"orient":"bottom","values":[1,2,3,4,5,6,7],"grid":true,"tickSize":-8,"labelPadding":3,"title":"pπ⁻ [GeV]","titleX":252,"titleY":15,"titleAlign":"right","titleBaseline":"middle"}},"xError":{"field":"w"},"y":{"field":"y","type":"quantitative","axis":{"orient":"left","values":[0.88,0.9,0.92,0.94,0.96,0.98,1],"format":"~g","grid":true,"tickSize":-8,"labelPadding":5,"title":"MMₑπ⁺ₓ","titleAngle":-90,"titleX":-22,"titleY":-2,"titleAlign":"right","titleBaseline":"middle"}},"color":{"field":"s","type":"nominal","scale":{"domain":["C","N","P"],"range":["#000000","#f21515","#22e622"]},"legend":null}}},
{"data":{"name":"d"},"transform":[{"filter":"datum.p==5"}],"mark":{"type":"errorbar","thickness":1.5},"encoding":{"x":{"field":"x","type":"quantitative","axis":null},"y":{"field":"y","type":"quantitative","axis":{"orient":"right","labels":false,"ticks":false,"grid":false,"domain":true,"title":null,"domainColor":"#999"}},"yError":{"field":"e"},"color":{"field":"s","type":"nominal","legend":null}}},
{"data":{"name":"d"},"transform":[{"filter":"datum.p==5"}],"mark":{"type":"circle","size":30,"opacity":1},"encoding":{"x":{"field":"x","type":"quantitative","axis":null},"y":{"field":"y","type":"quantitative","axis":null},"color":{"field":"s","type":"nominal","legend":null}}},
{"mark":{"type":"text","fontSize":8.4,"color":"#000"},"encoding":{"x":{"datum":0.691,"axis":null},"y":{"datum":0.99667,"axis":null},"text":{"value":"Single Pion Channel"}}},
{"mark":{"type":"text","fontSize":8.4,"color":"#ee1c1c"},"encoding":{"x":{"datum":0.691,"axis":null},"y":{"datum":0.99222,"axis":null},"text":{"value":"(Inbending) MM"}}},
{"mark":{"type":"text","fontSize":5.9,"color":"#ee1c1c"},"encoding":{"x":{"datum":2.512,"axis":null},"y":{"datum":0.99111,"axis":null},"text":{"value":"eπ⁺X"}}},
{"mark":{"type":"text","fontSize":8.4,"color":"#ee1c1c"},"encoding":{"x":{"datum":2.975,"axis":null},"y":{"datum":0.99222,"axis":null},"text":{"value":"π⁺ Sector 5"}}},
{"mark":{"type":"text","fontSize":8.4,"color":"#ee1c1c"},"encoding":{"x":{"datum":0.691,"axis":null},"y":{"datum":0.98507,"axis":null},"text":{"value":"Correction:"}}},
{"mark":{"type":"text","fontSize":8.4,"color":"#ee1c1c"},"encoding":{"x":{"datum":1.975,"axis":null},"y":{"datum":0.98678,"axis":null},"text":{"value":"El Cor (Quad - Quad ϕ - With Elastic Cors)"}}},
{"mark":{"type":"text","fontSize":8.4,"color":"#ee1c1c"},"encoding":{"x":{"datum":1.975,"axis":null},"y":{"datum":0.98281,"axis":null},"text":{"value":"π⁺ Cor (Quad - Quad ϕ - With Elastic Cors)"}}},
{"mark":{"type":"text","fontSize":8.4,"color":"#000"},"encoding":{"x":{"datum":0.691,"axis":null},"y":{"datum":0.97885,"axis":null},"text":{"value":"All 3 ϕ Bins"}}},
{"mark":{"type":"text","fontSize":6.9,"font":"Liberation Serif","fontWeight":"bold","color":"#000"},"encoding":{"x":{"datum":2.12,"axis":null},"y":{"datum":0.97885,"axis":null},"text":{"value":"(Central Bin -"}}},
{"mark":{"type":"text","fontSize":6.9,"font":"Liberation Serif","fontWeight":"bold","color":"#22e622"},"encoding":{"x":{"datum":3.577,"axis":null},"y":{"datum":0.97885,"axis":null},"text":{"value":"Positive Bin"}}},
{"mark":{"type":"text","fontSize":6.9,"font":"Liberation Serif","fontWeight":"bold","color":"#000"},"encoding":{"x":{"datum":4.765,"axis":null},"y":{"datum":0.97885,"axis":null},"text":{"value":"-"}}},
{"mark":{"type":"text","fontSize":6.9,"font":"Liberation Serif","fontWeight":"bold","color":"#ee1c1c"},"encoding":{"x":{"datum":4.944,"axis":null},"y":{"datum":0.97885,"axis":null},"text":{"value":"Negative Bin)"}}}
]},
{"width":252,"height":323,"data":{"values":[{}]},"resolve":{"axis":{"x":"independent","y":"independent"}},"layer":[
{"mark":{"type":"rule","color":"#222","strokeWidth":2},"encoding":{"x":{"datum":0.46,"type":"quantitative","scale":{"domain":[0.1,7.9],"nice":false,"zero":false},"axis":{"orient":"bottom","values":[0.2,0.4,0.6,0.8,1.2,1.4,1.6,1.8,2.2,2.4,2.6,2.8,3.2,3.4,3.6,3.8,4.2,4.4,4.6,4.8,5.2,5.4,5.6,5.8,6.2,6.4,6.6,6.8,7.2,7.4,7.6,7.8],"labels":false,"domain":false,"grid":false,"tickSize":-4,"title":null}},"x2":{"datum":7.8},"y":{"datum":0.9396,"type":"quantitative","scale":{"domain":[0.88,1],"nice":false,"zero":false},"axis":{"orient":"left","values":[0.885,0.89,0.895,0.905,0.91,0.915,0.925,0.93,0.935,0.945,0.95,0.955,0.965,0.97,0.975,0.985,0.99,0.995],"labels":false,"domain":false,"grid":false,"tickSize":-4,"title":null}}}},
{"data":{"name":"d"},"transform":[{"filter":"datum.p==6"}],"mark":{"type":"errorbar","ticks":{"size":5},"thickness":1.5},"encoding":{"x":{"field":"x","type":"quantitative","axis":{"orient":"bottom","values":[1,2,3,4,5,6,7],"grid":true,"tickSize":-8,"labelPadding":3,"title":"pπ⁻ [GeV]","titleX":252,"titleY":15,"titleAlign":"right","titleBaseline":"middle"}},"xError":{"field":"w"},"y":{"field":"y","type":"quantitative","axis":{"orient":"left","values":[0.88,0.9,0.92,0.94,0.96,0.98,1],"format":"~g","grid":true,"tickSize":-8,"labelPadding":5,"title":"MMₑπ⁺ₓ","titleAngle":-90,"titleX":-22,"titleY":-2,"titleAlign":"right","titleBaseline":"middle"}},"color":{"field":"s","type":"nominal","scale":{"domain":["C","N","P"],"range":["#000000","#f21515","#22e622"]},"legend":null}}},
{"data":{"name":"d"},"transform":[{"filter":"datum.p==6"}],"mark":{"type":"errorbar","thickness":1.5},"encoding":{"x":{"field":"x","type":"quantitative","axis":null},"y":{"field":"y","type":"quantitative","axis":{"orient":"right","labels":false,"ticks":false,"grid":false,"domain":true,"title":null,"domainColor":"#999"}},"yError":{"field":"e"},"color":{"field":"s","type":"nominal","legend":null}}},
{"data":{"name":"d"},"transform":[{"filter":"datum.p==6"}],"mark":{"type":"circle","size":30,"opacity":1},"encoding":{"x":{"field":"x","type":"quantitative","axis":null},"y":{"field":"y","type":"quantitative","axis":null},"color":{"field":"s","type":"nominal","legend":null}}},
{"mark":{"type":"text","fontSize":8.4,"color":"#000"},"encoding":{"x":{"datum":0.745,"axis":null},"y":{"datum":0.99667,"axis":null},"text":{"value":"Single Pion Channel"}}},
{"mark":{"type":"text","fontSize":8.4,"color":"#ee1c1c"},"encoding":{"x":{"datum":0.745,"axis":null},"y":{"datum":0.99222,"axis":null},"text":{"value":"(Inbending) MM"}}},
{"mark":{"type":"text","fontSize":5.9,"color":"#ee1c1c"},"encoding":{"x":{"datum":2.56,"axis":null},"y":{"datum":0.99111,"axis":null},"text":{"value":"eπ⁺X"}}},
{"mark":{"type":"text","fontSize":8.4,"color":"#ee1c1c"},"encoding":{"x":{"datum":3.02,"axis":null},"y":{"datum":0.99222,"axis":null},"text":{"value":"π⁺ Sector 6"}}},
{"mark":{"type":"text","fontSize":8.4,"color":"#ee1c1c"},"encoding":{"x":{"datum":0.745,"axis":null},"y":{"datum":0.98507,"axis":null},"text":{"value":"Correction:"}}},
{"mark":{"type":"text","fontSize":8.4,"color":"#ee1c1c"},"encoding":{"x":{"datum":2.025,"axis":null},"y":{"datum":0.98678,"axis":null},"text":{"value":"El Cor (Quad - Quad ϕ - With Elastic Cors)"}}},
{"mark":{"type":"text","fontSize":8.4,"color":"#ee1c1c"},"encoding":{"x":{"datum":2.025,"axis":null},"y":{"datum":0.98281,"axis":null},"text":{"value":"π⁺ Cor (Quad - Quad ϕ - With Elastic Cors)"}}},
{"mark":{"type":"text","fontSize":8.4,"color":"#000"},"encoding":{"x":{"datum":0.745,"axis":null},"y":{"datum":0.97885,"axis":null},"text":{"value":"All 3 ϕ Bins"}}},
{"mark":{"type":"text","fontSize":6.9,"font":"Liberation Serif","fontWeight":"bold","color":"#000"},"encoding":{"x":{"datum":2.17,"axis":null},"y":{"datum":0.97885,"axis":null},"text":{"value":"(Central Bin -"}}},
{"mark":{"type":"text","fontSize":6.9,"font":"Liberation Serif","fontWeight":"bold","color":"#22e622"},"encoding":{"x":{"datum":3.62,"axis":null},"y":{"datum":0.97885,"axis":null},"text":{"value":"Positive Bin"}}},
{"mark":{"type":"text","fontSize":6.9,"font":"Liberation Serif","fontWeight":"bold","color":"#000"},"encoding":{"x":{"datum":4.81,"axis":null},"y":{"datum":0.97885,"axis":null},"text":{"value":"-"}}},
{"mark":{"type":"text","fontSize":6.9,"font":"Liberation Serif","fontWeight":"bold","color":"#ee1c1c"},"encoding":{"x":{"datum":4.985,"axis":null},"y":{"datum":0.97885,"axis":null},"text":{"value":"Negative Bin)"}}}
]}
]}
]}
]
}
